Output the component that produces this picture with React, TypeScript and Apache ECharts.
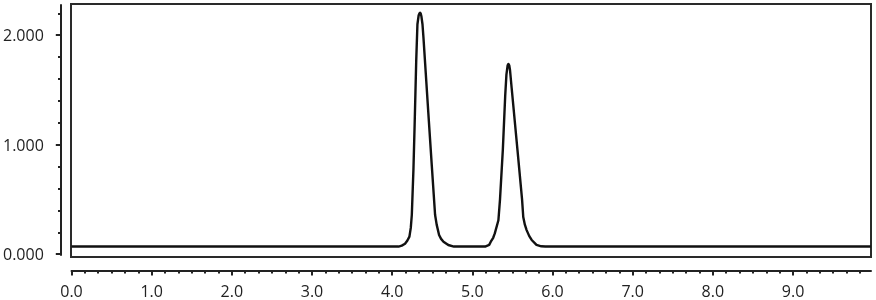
import React, { useEffect, useRef } from "react";
import * as echarts from "echarts";

// Retention time (min)
const timeMin = [
  0, 4.08, 4.12, 4.16, 4.19, 4.215, 4.232, 4.245, 4.265, 4.28, 4.3, 4.315, 4.33, 4.34, 4.347, 4.355, 4.365, 4.378, 4.39,
  4.45, 4.495, 4.535, 4.555, 4.585, 4.61, 4.64, 4.7, 4.77,
  5.16, 5.21, 5.23, 5.26, 5.28, 5.325, 5.345, 5.38, 5.41, 5.425, 5.44, 5.45, 5.46, 5.47, 5.49,
  5.563, 5.62, 5.635, 5.655, 5.677, 5.71, 5.74, 5.8, 5.86, 5.91, 9.97,
];
// Detector signal
const signal = [
  0.07, 0.07, 0.078, 0.095, 0.125, 0.16, 0.24, 0.36, 0.77, 1.18, 1.77, 2.1, 2.18, 2.2, 2.205, 2.2, 2.17, 2.1, 1.98,
  1.3, 0.8, 0.36, 0.27, 0.175, 0.14, 0.114, 0.084, 0.07,
  0.07, 0.085, 0.114, 0.15, 0.19, 0.31, 0.5, 0.95, 1.45, 1.64, 1.725, 1.737, 1.725, 1.68, 1.52,
  0.95, 0.5, 0.34, 0.27, 0.22, 0.165, 0.13, 0.085, 0.072, 0.07, 0.07,
];

const yMajorMax = 2; // labelled ticks 0.000 .. 2.000
const yMinorMax = 2.2; // minor ticks every 0.2
const xMajorMax = 9; // labelled ticks 0.0 .. 9.0
const xMinorMaxSec = 590; // minor ticks every 10 s

const FONT = "'Open Sans', 'Noto Sans', sans-serif";
const INK = "#222";

export default function App() {
  const ref = useRef<HTMLDivElement>(null);
  useEffect(() => {
    if (!ref.current) return;
    const chart = echarts.init(ref.current, undefined, { renderer: "svg" });
    const y0 = 254.2; // px of signal 0
    const yPer = 109.5; // px per unit
    const x0 = 71.5; // px of time 0
    const xPer = 80.17; // px per minute
    const hidden = { show: false, type: "value" as const, min: 0, max: 1 };
    const data = timeMin.map((t, i) => [t, signal[i]]);
    const tickLine = { color: INK, width: 2 };
    chart.setOption({
      animation: false,
      grid: [
        { left: 71, top: 4, width: 800, height: 253, show: true, borderColor: "#2a2a2a", borderWidth: 2 },
        { left: 61, top: 5, width: 10, height: 250 },
        { left: 61, top: y0 - yMinorMax * yPer, width: 10, height: yMinorMax * yPer },
        { left: 61, top: y0 - yMajorMax * yPer, width: 10, height: yMajorMax * yPer },
        { left: x0, top: 0, width: 871 - x0, height: 270.5 },
        { left: x0, top: 0, width: (xMinorMaxSec / 60) * xPer, height: 270.5 },
        { left: x0, top: 0, width: xMajorMax * xPer, height: 270.5 },
      ],
      xAxis: [
        { ...hidden, gridIndex: 0, min: (71 - x0) / xPer, max: (871 - x0) / xPer },
        { ...hidden, gridIndex: 1 },
        { ...hidden, gridIndex: 2 },
        { ...hidden, gridIndex: 3 },
        {
          type: "value", gridIndex: 4, min: 0, max: 1, position: "bottom",
          axisLine: { show: true, onZero: false, lineStyle: tickLine },
          axisTick: { show: false }, axisLabel: { show: false }, splitLine: { show: false },
        },
        {
          type: "value", gridIndex: 5, min: 0, max: xMinorMaxSec, interval: 10, position: "bottom",
          axisLine: { show: false, onZero: false },
          axisTick: { show: true, length: 3, lineStyle: tickLine },
          axisLabel: { show: false }, splitLine: { show: false },
        },
        {
          type: "value", gridIndex: 6, min: 0, max: xMajorMax, interval: 1, position: "bottom",
          axisLine: { show: false, onZero: false },
          axisTick: { show: true, length: 5, lineStyle: tickLine },
          axisLabel: {
            show: true, margin: 12, fontSize: 16, fontFamily: FONT, color: INK,
            formatter: (v: number) => v.toFixed(1),
          },
          splitLine: { show: false },
        },
      ],
      yAxis: [
        { ...hidden, gridIndex: 0, min: (y0 - 257) / yPer, max: (y0 - 4) / yPer },
        {
          type: "value", gridIndex: 1, min: 0, max: 1, position: "left",
          axisLine: { show: true, onZero: false, lineStyle: tickLine },
          axisTick: { show: false }, axisLabel: { show: false }, splitLine: { show: false },
        },
        {
          type: "value", gridIndex: 2, min: 0, max: yMinorMax, interval: 0.2, position: "left",
          axisLine: { show: false, onZero: false },
          axisTick: { show: true, length: 3, lineStyle: tickLine },
          axisLabel: { show: false }, splitLine: { show: false },
        },
        {
          type: "value", gridIndex: 3, min: 0, max: yMajorMax, interval: 1, position: "left",
          axisLine: { show: false, onZero: false },
          axisTick: { show: true, length: 6, lineStyle: tickLine },
          axisLabel: {
            show: true, margin: 18, fontSize: 16, fontFamily: FONT, color: INK,
            formatter: (v: number) => v.toFixed(3),
          },
          splitLine: { show: false },
        },
        { ...hidden, gridIndex: 4 },
        { ...hidden, gridIndex: 5 },
        { ...hidden, gridIndex: 6 },
      ],
      series: [
        {
          type: "line", xAxisIndex: 0, yAxisIndex: 0, data,
          showSymbol: false, smooth: false,
          lineStyle: { color: "#111", width: 2.4, join: "round" },
        },
      ],
    });
    return () => chart.dispose();
  }, []);
  return <div ref={ref} style={{ position: "fixed", left: 0, top: 0, width: 876, height: 300 }} />;
}
